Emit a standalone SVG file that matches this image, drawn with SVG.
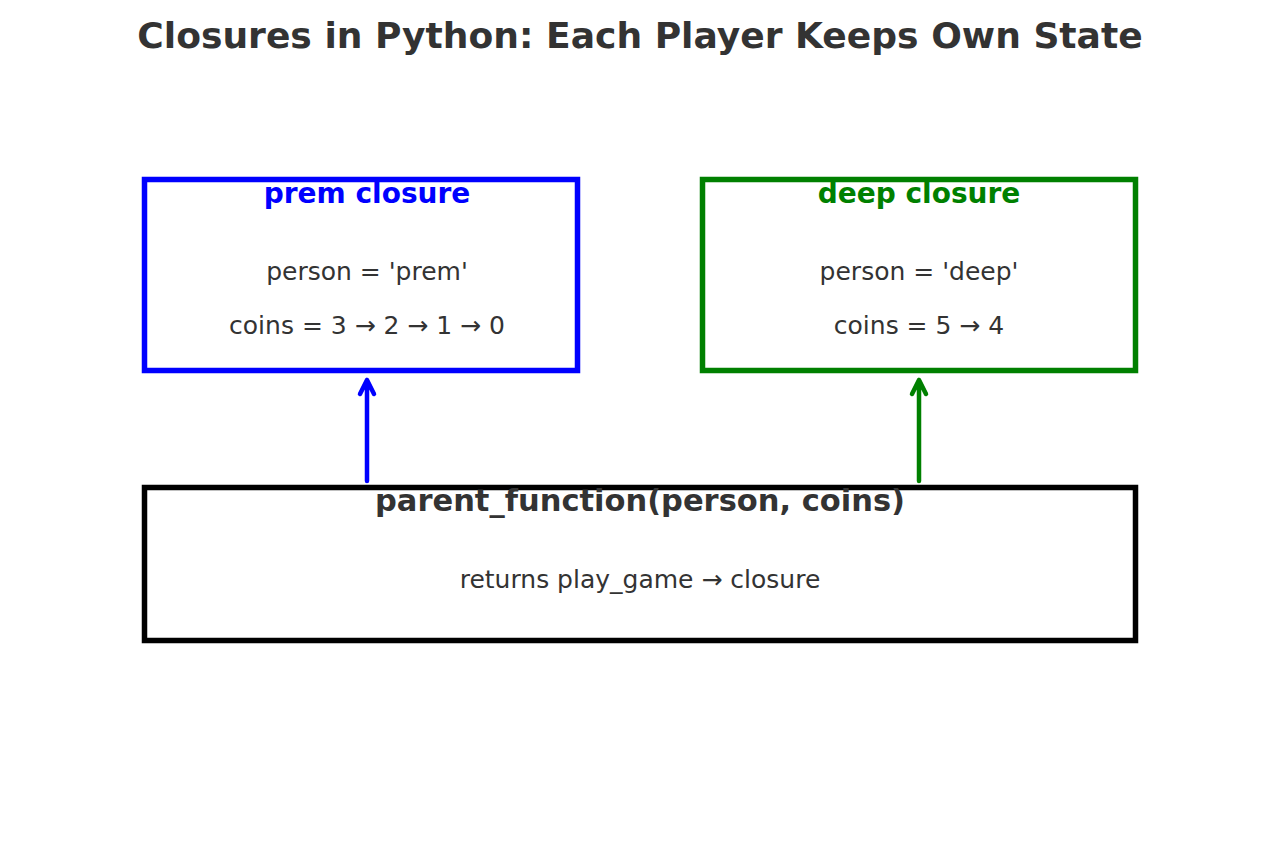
<svg xmlns="http://www.w3.org/2000/svg" width="1280" height="853" viewBox="0 0 1280 853">
<style>
text{font-family:"DejaVu Sans","Liberation Sans",sans-serif;text-anchor:middle;fill:#333333}
.title{font-size:36.1px;font-weight:bold}
.head{font-size:28px;font-weight:bold}
.body{font-size:25px}
.box{fill:#ffffff;stroke-width:5.5}
.conn{fill:none;stroke-width:4.5;stroke-linecap:round;stroke-linejoin:round}
</style>
<rect width="1280" height="853" fill="#ffffff"/>
<text class="title" x="640" y="48">Closures in Python: Each Player Keeps Own State</text>
<g id="prem">
<rect class="box" x="144.5" y="179.5" width="433" height="191" stroke="#0000ff"/>
<text class="head" x="367" y="203" style="fill:#0000ff">prem closure</text>
<text class="body" x="367" y="280">person = 'prem'</text>
<text class="body" x="367" y="334">coins = 3 → 2 → 1 → 0</text>
</g>
<g id="deep">
<rect class="box" x="702.5" y="179.5" width="433" height="191" stroke="#008000"/>
<text class="head" x="919" y="203" style="fill:#008000">deep closure</text>
<text class="body" x="919" y="280">person = 'deep'</text>
<text class="body" x="919" y="334">coins = 5 → 4</text>
</g>
<g id="parent">
<rect class="box" x="144.5" y="487.5" width="991" height="153" stroke="#000000"/>
<text class="head" x="640" y="511" style="font-size:30.5px">parent_function(person, coins)</text>
<text class="body" x="640" y="588">returns play_game → closure</text>
</g>
<g id="connectors">
<path class="conn" stroke="#0000ff" d="M367 481V380M360 394L367 380L374 394"/>
<path class="conn" stroke="#008000" d="M919 481V380M912 394L919 380L926 394"/>
</g>
</svg>
